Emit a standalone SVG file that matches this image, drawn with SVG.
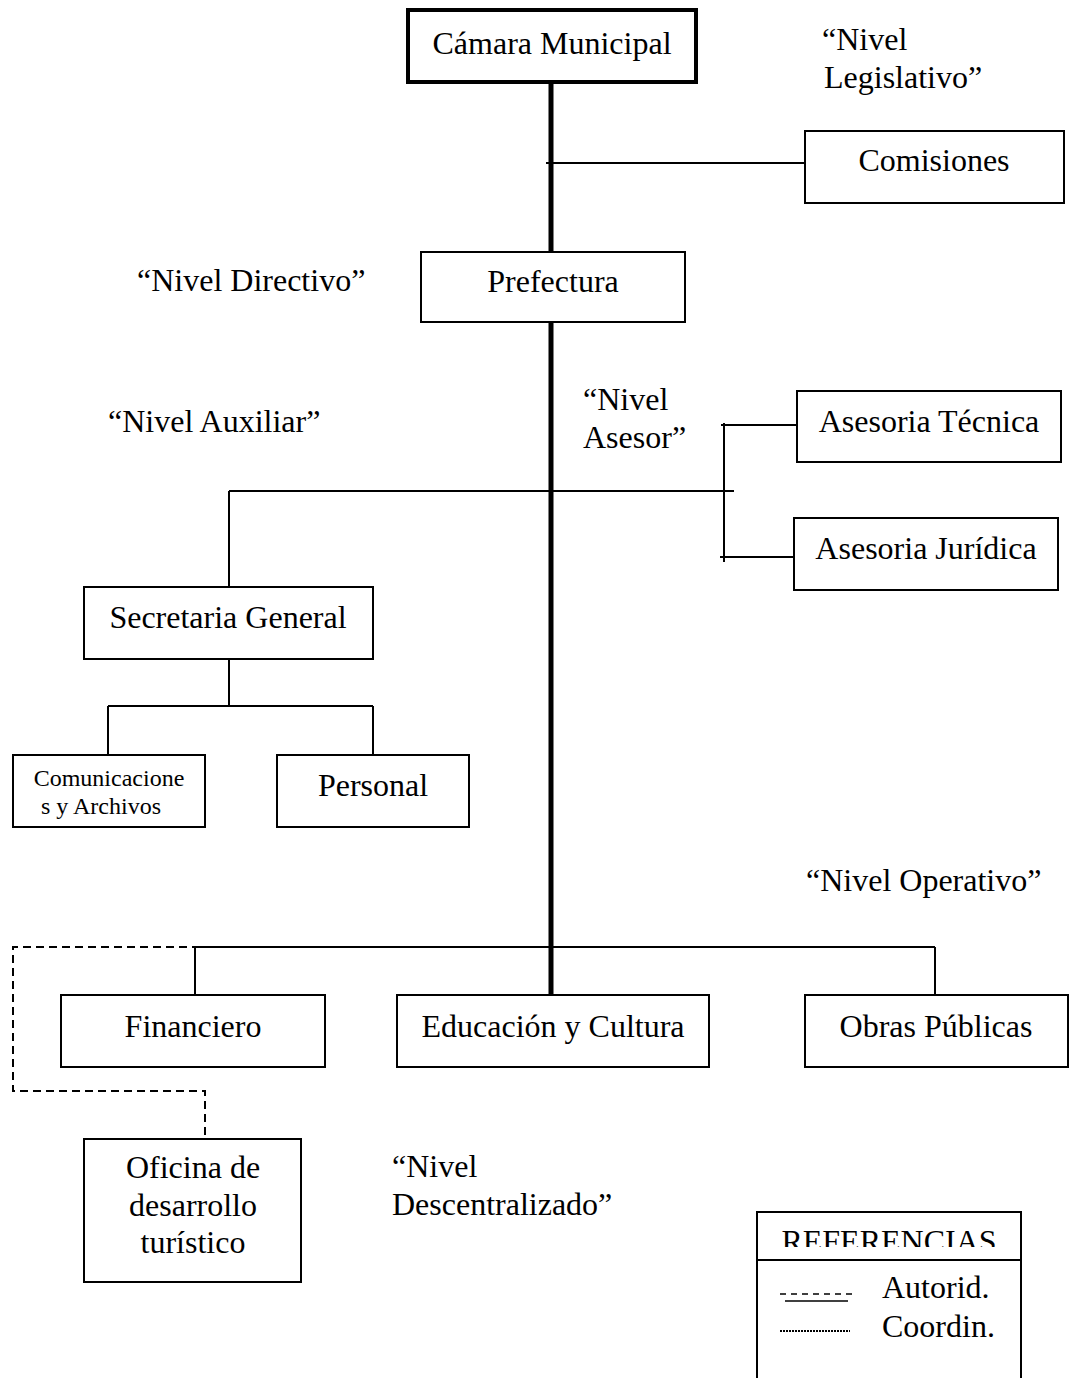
<svg xmlns="http://www.w3.org/2000/svg" width="1069" height="1378" viewBox="0 0 1069 1378">
  <style>
    .box { fill: #fff; stroke: #000; stroke-width: 2; }
    .box-bold { fill: #fff; stroke: #000; stroke-width: 4; }
    .lbl { font-family: "Liberation Serif", "Times New Roman", serif; font-size: 32px; fill: #000; }
    .mid { text-anchor: middle; }
    .small { font-size: 24px; }
    .thin { stroke: #000; stroke-width: 2; fill: none; }
    .spine { stroke: #000; stroke-width: 5; fill: none; }
    .dash { stroke: #000; stroke-width: 2; fill: none; stroke-dasharray: 8 5; }
  </style>
  <defs>
    <clipPath id="legend-title-clip">
      <rect x="757" y="1212" width="264" height="35"/>
    </clipPath>
  </defs>
  <rect width="1069" height="1378" fill="#fff"/>

  <!-- connectors -->
  <g id="connectors">
    <!-- main spine -->
    <line class="spine" x1="551" y1="82" x2="551" y2="252"/>
    <line class="spine" x1="551" y1="322" x2="551" y2="995"/>
    <!-- Comisiones -->
    <line class="thin" x1="546" y1="163" x2="806" y2="163"/>
    <!-- asesoria bracket -->
    <line class="thin" x1="229" y1="491" x2="734" y2="491"/>
    <line class="thin" x1="724" y1="423" x2="724" y2="562"/>
    <line class="thin" x1="721" y1="425" x2="797" y2="425"/>
    <line class="thin" x1="720" y1="557" x2="794" y2="557"/>
    <!-- Secretaria General branch -->
    <line class="thin" x1="229" y1="491" x2="229" y2="587"/>
    <line class="thin" x1="229" y1="657" x2="229" y2="706"/>
    <line class="thin" x1="108" y1="706" x2="373" y2="706"/>
    <line class="thin" x1="108" y1="706" x2="108" y2="755"/>
    <line class="thin" x1="373" y1="706" x2="373" y2="755"/>
    <!-- operativo bar -->
    <line class="thin" x1="195" y1="947" x2="935" y2="947"/>
    <line class="thin" x1="195" y1="947" x2="195" y2="995"/>
    <line class="thin" x1="935" y1="947" x2="935" y2="995"/>
    <!-- authority link to Oficina -->
    <polyline class="dash" points="200,947 13,947 13,1091 205,1091 205,1140"/>
  </g>

  <g id="camara">
    <rect class="box-bold" x="408" y="10" width="288" height="72"/>
    <text class="lbl mid" x="552" y="54">Cámara Municipal</text>
  </g>
  <g id="comisiones">
    <rect class="box" x="805" y="131" width="259" height="72"/>
    <text class="lbl mid" x="934" y="171">Comisiones</text>
  </g>
  <g id="prefectura">
    <rect class="box" x="421" y="252" width="264" height="70"/>
    <text class="lbl mid" x="553" y="292">Prefectura</text>
  </g>
  <g id="asesoria-tecnica">
    <rect class="box" x="797" y="391" width="264" height="71"/>
    <text class="lbl mid" x="929" y="432">Asesoria Técnica</text>
  </g>
  <g id="asesoria-juridica">
    <rect class="box" x="794" y="518" width="264" height="72"/>
    <text class="lbl mid" x="926" y="559">Asesoria Jurídica</text>
  </g>
  <g id="secretaria">
    <rect class="box" x="84" y="587" width="289" height="72"/>
    <text class="lbl mid" x="228" y="628">Secretaria General</text>
  </g>
  <g id="comunicaciones">
    <rect class="box" x="13" y="755" width="192" height="72"/>
    <text class="lbl small mid" x="109" y="786">Comunicacione</text>
    <text class="lbl small mid" x="101" y="814">s y Archivos</text>
  </g>
  <g id="personal">
    <rect class="box" x="277" y="755" width="192" height="72"/>
    <text class="lbl mid" x="373" y="796">Personal</text>
  </g>
  <g id="financiero">
    <rect class="box" x="61" y="995" width="264" height="72"/>
    <text class="lbl mid" x="193" y="1037">Financiero</text>
  </g>
  <g id="educacion">
    <rect class="box" x="397" y="995" width="312" height="72"/>
    <text class="lbl mid" x="553" y="1037">Educación y Cultura</text>
  </g>
  <g id="obras">
    <rect class="box" x="805" y="995" width="263" height="72"/>
    <text class="lbl mid" x="936" y="1037">Obras Públicas</text>
  </g>
  <g id="oficina">
    <rect class="box" x="84" y="1139" width="217" height="143"/>
    <text class="lbl mid" x="193" y="1178">Oficina de</text>
    <text class="lbl mid" x="193" y="1216">desarrollo</text>
    <text class="lbl mid" x="193" y="1253">turístico</text>
  </g>

  <!-- level captions -->
  <g id="levels">
    <text class="lbl" x="822" y="50">“Nivel</text>
    <text class="lbl" x="824" y="88">Legislativo”</text>
    <text class="lbl" x="137" y="291">“Nivel Directivo”</text>
    <text class="lbl" x="583" y="410">“Nivel</text>
    <text class="lbl" x="583" y="448">Asesor”</text>
    <text class="lbl" x="108" y="432">“Nivel Auxiliar”</text>
    <text class="lbl" x="806" y="891">“Nivel Operativo”</text>
    <text class="lbl" x="392" y="1177">“Nivel</text>
    <text class="lbl" x="392" y="1215">Descentralizado”</text>
  </g>

  <!-- legend -->
  <g id="referencias">
    <polyline class="thin" points="757,1378 757,1212 1021,1212 1021,1378"/>
    <line class="thin" x1="757" y1="1260" x2="1021" y2="1260"/>
    <text class="lbl mid" x="889" y="1252" clip-path="url(#legend-title-clip)">REFERENCIAS</text>
    <line stroke="#000" stroke-width="1.5" stroke-dasharray="6 5" x1="780" y1="1294" x2="852" y2="1294"/>
    <line stroke="#000" stroke-width="1.5" x1="785" y1="1301" x2="848" y2="1301"/>
    <text class="lbl" x="882" y="1298">Autorid.</text>
    <line stroke="#000" stroke-width="2" stroke-dasharray="2 1" x1="780" y1="1331" x2="850" y2="1331"/>
    <text class="lbl" x="882" y="1337">Coordin.</text>
  </g>
</svg>
